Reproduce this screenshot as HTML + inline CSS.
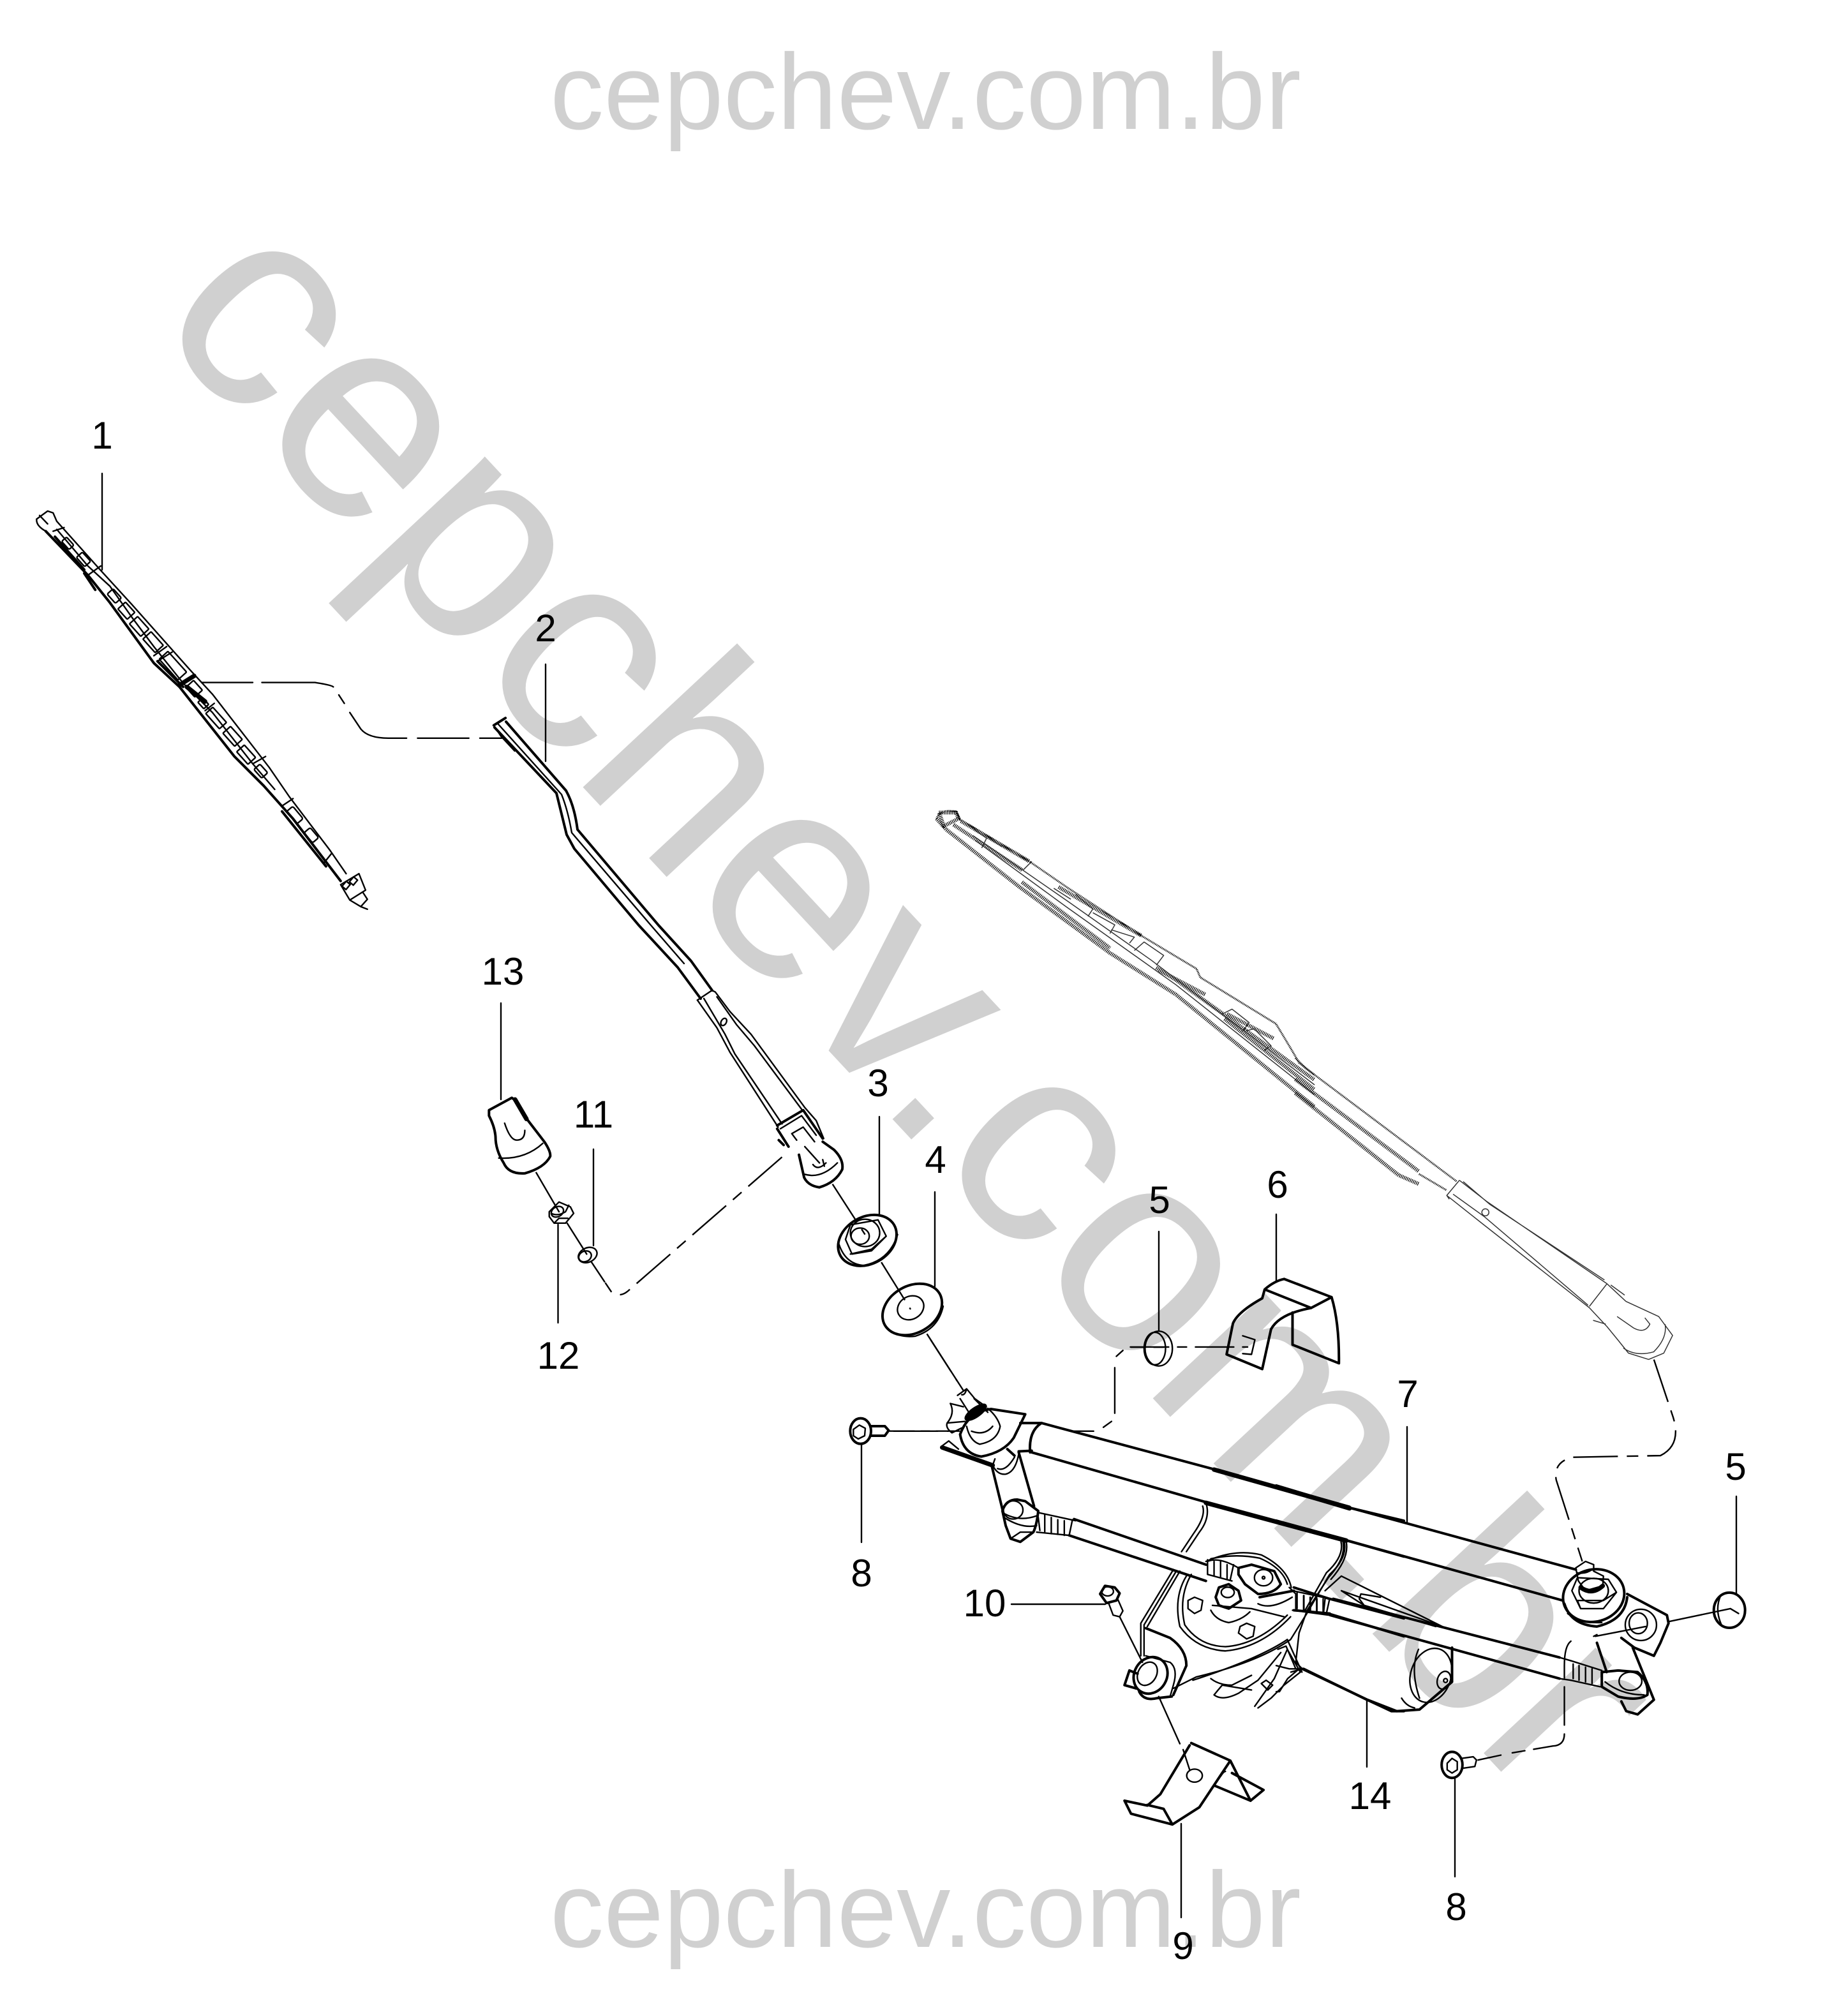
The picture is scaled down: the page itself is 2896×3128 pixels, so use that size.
<!DOCTYPE html>
<html><head><meta charset="utf-8"><style>
html,body{margin:0;padding:0;background:#fff}
svg{display:block}
.w{font-family:"Liberation Sans",sans-serif;fill:#d0d0d0}
.l{font-family:"Liberation Sans",sans-serif;font-size:60px;fill:#000;text-anchor:middle}
.a *{vector-effect:non-scaling-stroke;fill:none;stroke:#000;stroke-width:2.4;stroke-linejoin:round;stroke-linecap:round}
.a .t{stroke-width:4}
.a .th{stroke-width:1.5}
.a .x{stroke-width:7}
.a .d{stroke-dasharray:70 14 18 14;stroke-linecap:butt}
.a .f{fill:#000}
.g *{vector-effect:non-scaling-stroke;fill:none;stroke:#333;stroke-width:1.5;stroke-linejoin:round}
.g .h{stroke-width:6;stroke:#000;stroke-dasharray:1.2 1.4}
.g .m{stroke-width:3;stroke:#000;stroke-dasharray:1.2 1.2}
</style></head><body>
<svg xmlns="http://www.w3.org/2000/svg" width="2896" height="3128" viewBox="0 0 2896 3128">
<rect width="2896" height="3128" fill="#fff"/>
<text class="w" x="862" y="202" font-size="168.500">cepchev.com.br</text>
<text class="w" x="862" y="3051" font-size="168.500">cepchev.com.br</text>
<text class="w" font-size="456" transform="translate(235 506) rotate(47)">cepchev.com.br</text>

<!-- leaders -->
<g class="a">
<path d="M160 742V893M855 1041V1193M785 1572V1723M930 1801V1952M874.500 1919V2073M1378 1750V1904M1465 1868V2016M1816 1930V2085M2000 1903V2008M2205 2236V2388M2721 2345V2497M2142 2664V2769M2280 2788V2941M1851 2858V3005M1585 2514H1732M1350 2263V2417"/>
</g>

<!-- Z1 blade 1 and connector -->
<g class="a" transform="translate(0 600) scale(.574)">
<path d="M100 372L130 350L145 355L155 378L275 512L360 605L520 785L580 850L735 1050L790 1130L900 1275L945 1340"/>
<path class="t" d="M125 405L240 525L300 600L420 765L490 830L640 1020L720 1100L800 1190L930 1360"/>
<path d="M100 372Q98 390 125 405M108 362L130 385M155 400L240 500L300 555L360 640L420 720L500 820L580 900L690 1040L750 1110"/>
<path d="M240 525L275 500M145 405L175 395M420 745L455 720M430 760L470 735M560 895L585 875M690 1040L725 1020M770 1155L800 1135M885 1310L905 1285"/>
<path class="t" d="M150 420L230 510M230 520L260 565M770 1170L890 1320M430 760L500 830"/>
<g fill="none">
<rect x="-15" y="-9" width="30" height="18" rx="4" transform="translate(185 438) rotate(48)"/>
<rect x="-17" y="-11" width="34" height="22" rx="4" transform="translate(228 482) rotate(48)"/>
<rect x="-17" y="-11" width="34" height="22" rx="4" transform="translate(312 582) rotate(48)"/>
<rect x="-19" y="-14" width="38" height="28" rx="2" transform="translate(345 622) rotate(48)"/>
<rect x="-23" y="-15" width="46" height="30" rx="2" transform="translate(380 665) rotate(48)"/>
<rect x="-25" y="-15" width="50" height="30" rx="2" transform="translate(418 708) rotate(48)"/>
<rect x="-38" y="-16" width="76" height="32" rx="2" transform="translate(472 772) rotate(48)"/>
<rect x="-18" y="-14" width="36" height="28" rx="2" transform="translate(530 835) rotate(48)"/>
<rect x="-12" y="-9" width="24" height="18" rx="2" transform="translate(555 875) rotate(48)"/>
<rect x="-28" y="-13" width="56" height="26" rx="2" transform="translate(590 915) rotate(48)"/>
<rect x="-24" y="-14" width="48" height="28" rx="2" transform="translate(635 965) rotate(48)"/>
<rect x="-23" y="-14" width="46" height="28" rx="2" transform="translate(672 1015) rotate(48)"/>
<rect x="-16" y="-11" width="32" height="22" rx="4" transform="translate(712 1060) rotate(48)"/>
<rect x="-22" y="-11" width="44" height="22" rx="5" transform="translate(805 1180) rotate(50)"/>
<rect x="-18" y="-11" width="36" height="22" rx="5" transform="translate(850 1235) rotate(50)"/>
<rect x="-7" y="-9" width="14" height="18" transform="translate(945 1372) rotate(40)"/>
<rect x="-7" y="-9" width="14" height="18" transform="translate(965 1360) rotate(40)"/>
</g>
<path class="x" d="M490 825L530 800M510 830L560 870"/>
<path d="M930 1370L980 1340L998 1385L955 1412L930 1370M955 1412L985 1430L1003 1410L990 1390M985 1430L1003 1437"/>
<path d="M550 818H690M715 818H800M770 818H860Q905 825 910 830M925 852L940 875M955 900L985 945Q1005 970 1060 970H1110M1140 970H1280M1310 970H1370"/>
<path class="t" d="M1348 935L1380 915"/>
<path d="M1348 935L1368 965L1405 1005"/>
</g>

<!-- arm 2 -->
<g class="a">
<path class="t" d="M793 1131L887 1239Q900 1262 905 1300L1032 1450L1083 1506L1116 1552"/>
<path class="t" d="M775 1140L872 1243L888 1308L900 1330L1001 1450L1062 1516L1098 1565"/>
<path d="M780 1134L880 1245Q890 1270 896 1305L1020 1450L1072 1510"/>
</g>

<!-- Z2 -->
<g class="a" transform="translate(700 1450) scale(.5102)">
<path d="M770 230L815 200L825 205L870 265L935 335L1100 560L1135 600L1158 655"/>
<path d="M770 230L830 315L870 390L1018 620M790 225L855 335L885 395L1030 610M830 220L890 305L945 370L1090 565"/>
<ellipse cx="851" cy="297" rx="8" ry="12" transform="rotate(30 851 297)"/>
<path class="t" d="M1015 615L1095 568L1155 655M1015 625L1050 680M1020 660L1035 675"/>
<path d="M1025 625L1090 585L1135 645M1060 640L1095 620L1130 665M1060 640L1075 660M1100 680L1145 730"/>
<path class="t" d="M1155 665L1190 690Q1220 720 1215 750Q1195 790 1145 805Q1110 800 1098 775L1082 705"/>
<path d="M1100 765Q1150 780 1200 730M1125 735Q1140 755 1165 730M1155 720L1160 740"/>
<path class="d" d="M1030 712L555 1125Q530 1145 505 1125L487 1098"/>
<path d="M485 1095L445 1035M370 915L430 1010M275 760L345 880"/>
<path class="d" d="M1185 795L1285 950M1335 1035L1425 1180M1475 1255L1568 1400"/>
<!-- 13 -->
<path class="t" d="M130 568L200 530L207 535L250 600L300 665Q320 695 318 710Q300 745 240 762Q190 765 175 730Q150 690 150 650Q148 620 130 585Z"/>
<path class="x" d="M210 535L245 595"/>
<path d="M160 715Q240 720 295 670M178 608Q195 660 215 660Q240 660 240 630"/>
<!-- 12 -->
<path d="M315 880L345 850L380 865L390 885L365 915L330 915L315 895ZM322 885Q340 895 365 880L375 860M330 915L345 900L372 900"/>
<ellipse cx="340" cy="880" rx="20" ry="15" transform="rotate(-30 340 880)"/>
<!-- 11 -->
<ellipse cx="433" cy="1013" rx="30" ry="22" transform="rotate(-25 433 1013)"/>
<ellipse cx="425" cy="1017" rx="20" ry="16" transform="rotate(-25 425 1017)"/>
<!-- 3 -->
<ellipse class="t" cx="1292" cy="968" rx="95" ry="72" transform="rotate(-30 1292 968)"/>
<path d="M1205 980Q1225 1040 1280 1045Q1360 1030 1385 950M1225 965L1240 920L1325 905L1350 955L1305 1000L1245 1010ZM1240 1010L1305 995L1350 955"/>
<ellipse cx="1285" cy="945" rx="45" ry="42"/>
<ellipse cx="1270" cy="955" rx="28" ry="25"/>
<!-- 4 -->
<ellipse class="t" cx="1430" cy="1180" rx="97" ry="72" transform="rotate(-30 1430 1180)"/>
<path d="M1345 1225Q1375 1270 1440 1262Q1510 1240 1525 1170"/>
<ellipse cx="1425" cy="1175" rx="42" ry="35" transform="rotate(-30 1425 1175)"/>
</g>

<!-- Z3 -->
<g class="a" transform="translate(1400 2100) scale(.5102)">
<path d="M197 170L225 150L250 180L285 205M205 180L240 235M248 180L290 222M210 168Q220 170 225 150"/>
<ellipse class="f" cx="253" cy="222" rx="38" ry="14" transform="rotate(-35 253 222)"/>
<path d="M225 265Q235 310 265 320Q320 310 328 265Q320 235 290 210M240 280Q280 295 305 265"/>
<path class="t" d="M205 290Q230 220 300 212L405 228L370 300Q340 345 270 358Q215 350 205 290"/>
<path d="M175 195L215 205M175 195Q190 225 165 255Q160 270 180 285L210 270M165 255L220 250M150 325L170 310L200 335"/>
<path class="x" d="M150 330L305 385"/>
<path d="M305 385L312 365M305 385Q320 415 345 412Q375 405 385 350M320 395Q345 405 372 360"/>
<path class="t" d="M303 390L335 520M385 345L432 510M350 335L372 355"/>
<path class="t" d="M455 255Q415 280 420 345M390 255L455 255M385 342L425 340"/>
<path class="t" d="M455 255L985 397L1400 515L1568 555"/>
<path class="t" d="M425 345L960 498L1390 615L1568 665"/>
<path class="x" d="M985 398L1400 515M960 500L1390 616"/>
<!-- ball left -->
<path class="t" d="M335 525Q345 490 380 490L405 495L445 525Q440 570 430 590L390 620L360 610L345 570Z"/>
<path d="M340 545Q395 580 440 570M335 530Q385 560 440 540M360 610L390 590L430 590"/>
<ellipse cx="368" cy="522" rx="30" ry="28"/>
<path d="M445 530L560 555M440 590L540 600M445 545L450 585M465 535V590M485 545V595M505 552V597M525 555V600M550 552L540 600"/>
<path class="t" d="M555 550L960 690M540 600L960 740"/>
<!-- bracket -->
<path d="M960 500Q975 545 940 590L900 650M950 510Q960 540 925 590L885 650M860 705L760 870V970M870 708L770 875V970M880 710L780 880"/>
<path class="t" d="M775 885L850 915Q900 950 900 1000L860 1090"/>
<path d="M775 970L850 990Q875 1010 860 1060L850 1095"/>
<path d="M1385 620Q1395 670 1340 720L1270 840L1220 920Q1120 990 930 1035L860 1070M1375 620Q1385 665 1330 715L1262 835M1210 920Q1120 980 920 1045"/>
<path d="M900 725Q860 790 880 880Q930 950 1020 955Q1130 945 1220 850M915 720Q875 790 895 875Q940 940 1020 942Q1120 935 1210 845"/>
<path d="M960 680Q1050 640 1130 660Q1210 700 1222 760M975 672Q1050 655 1125 670Q1195 700 1210 750"/>
<path d="M905 800L925 790L950 800L945 830L925 840L905 825ZM1065 880L1085 870L1110 880L1105 910L1085 918L1060 900Z"/>
<path class="t" d="M1000 760L1030 750L1060 770L1068 800L1030 825L1000 815L990 790Z"/>
<ellipse cx="1027" cy="775" rx="20" ry="16"/>
<path d="M980 815L1100 825L1200 850M975 830Q990 860 1030 868Q1070 860 1095 835M1120 810Q1160 830 1225 790"/>
<path class="t" d="M1060 700L1100 690L1170 710L1190 750Q1170 780 1120 780L1080 750L1060 720Z"/>
<ellipse cx="1137" cy="730" rx="28" ry="25"/>
<circle cx="1137" cy="730" r="4"/>
<path d="M965 675V720M985 680V725M1005 680V730M1025 690V735M1045 690L1035 735M965 680Q1000 665 1060 700M965 720L1040 740"/>
<path class="t" d="M1230 760L1340 795M1230 830L1340 840M1125 790L1230 770"/>
<path d="M1240 775V825M1260 785V830M1280 790V835M1300 790V835M1320 795V840M1340 795L1330 840"/>
<path class="t" d="M1340 795L1568 855M1335 840L1568 910"/>
<!-- bolt 10 -->
<path class="t" d="M635 780L650 755L680 760L695 778L685 800L655 808Z"/>
<ellipse cx="658" cy="772" rx="18" ry="14"/>
<path d="M660 805L675 845L695 850L705 832L690 798"/>
<path d="M695 850L765 990M815 1095L880 1240M890 1258L910 1320"/>
<!-- pivot bottom-left -->
<ellipse class="t" cx="790" cy="1030" rx="50" ry="58" transform="rotate(30 790 1030)"/>
<ellipse cx="780" cy="1025" rx="28" ry="38" transform="rotate(30 780 1025)"/>
<path class="t" d="M710 1060L725 1015L750 1025M710 1060L745 1070M755 1080Q770 1110 810 1100L855 1095"/>
<!-- motor under -->
<path d="M975 1040Q1000 1060 1040 1060L1100 1030M985 1090L1010 1060L1100 1075M985 1090Q1010 1110 1060 1085L1120 1045L1190 960M1110 1125L1170 1040L1210 950L1250 1020L1200 1060L1160 1100L1120 1130M1210 920L1255 1020"/>
<path d="M1130 1055L1145 1045L1165 1060L1150 1075Z"/>
<path class="t" d="M1260 1010L1455 1105L1530 1140H1568"/>
<path class="d" d="M0 280H170"/>
<path d="M115 0L215 155"/>
<path d="M550 280H615M645 268L670 250M680 225V85M685 50L705 32M730 22H775M800 22L830 22"/>
<!-- bracket 9 -->
<path class="t" d="M915 1238L1035 1292L1097 1415L1137 1382L1040 1330M985 1368L1097 1415M1035 1292L940 1435L857 1488L730 1455L710 1415L780 1430L820 1395L910 1245M780 1428L830 1440L857 1488"/>
<ellipse cx="925" cy="1338" rx="24" ry="20"/>
<path d="M1005 1340Q1015 1325 1020 1325"/>
</g>

<!-- Z4 -->
<g class="a" transform="translate(2000 2100) scale(.5102)">
<path class="d" d="M1160 60L1215 225Q1250 320 1180 355L910 360Q850 375 860 430L940 680"/>
<path class="t" d="M0 447L225 515L920 705M0 555L215 615L880 800"/>
<path class="x" d="M0 450L225 517M0 558L215 616"/>
<path d="M205 620Q215 670 160 730L95 830L70 900M215 620Q225 670 168 735"/>
<path class="t" d="M175 795L870 975M165 845L870 1040"/>
<path d="M50 770L165 795M50 830L160 845M60 780V825M85 785V830M105 790V832M125 795V835M150 795L145 840M40 760L60 780"/>
<path d="M150 770L200 725L510 880M510 880L200 770L270 815L490 880M255 795L260 780L320 790M255 795L270 815"/>
<path class="t" d="M80 1010L280 1105L370 1140L440 1135L540 1050V945"/>
<path d="M70 900L60 990L80 1010L45 1020"/>
<ellipse cx="475" cy="1030" rx="62" ry="85" transform="rotate(18 475 1030)"/>
<path d="M437 950Q410 1010 440 1100"/>
<ellipse cx="515" cy="1045" rx="20" ry="28" transform="rotate(18 515 1045)"/>
<circle cx="520" cy="1046" r="6"/>
<path d="M385 1100Q400 1125 425 1130"/>
<path d="M0 1000L40 1010L70 1010L35 1040L10 1080H0M5 950L30 940L60 1010"/>
<!-- right pivot -->
<ellipse class="t" cx="975" cy="785" rx="95" ry="80" transform="rotate(-15 975 785)"/>
<path class="t" d="M885 810Q905 875 985 880Q1070 860 1078 790"/>
<path d="M895 840Q930 870 1000 868"/>
<path d="M908 770L925 730L1020 735L1045 775L1005 825L935 825ZM935 825L925 800L1005 800L1045 775"/>
<ellipse cx="975" cy="770" rx="45" ry="38"/>
<path d="M920 700L950 680L975 690L975 710L1005 725L1003 755L950 770L928 740L920 700M925 715Q950 720 970 705"/>
<path class="x" d="M935 760Q970 785 1003 755"/>
<path class="t" d="M1078 780L1200 845L1205 870L1180 930L1160 970L1100 945L1060 915"/>
<ellipse cx="1120" cy="875" rx="48" ry="48"/>
<ellipse cx="1112" cy="870" rx="28" ry="32"/>
<path d="M1205 865L1395 825M980 910L1135 880M1395 825L1420 840"/>
<path class="t" d="M985 930L1015 1020M1095 945L1160 1105L1110 1150L1075 1140L1060 1110"/>
<path class="t" d="M1000 1020L1050 1015L1110 1020Q1145 1050 1140 1090Q1110 1110 1050 1095L1000 1065Z"/>
<ellipse cx="1088" cy="1048" rx="35" ry="28"/>
<path d="M1010 1050Q1060 1090 1130 1090"/>
<path d="M905 985L1000 1015M905 1045L995 1065M912 995V1040M930 1000V1045M950 1005V1050M970 1010V1055"/>
<path d="M870 975L905 985M870 1040L905 1045"/>
<path d="M975 910L985 905M905 925Q885 940 885 1000V1210Q885 1245 850 1247L725 1268M690 1275L620 1290" stroke-dasharray="60 14"/>
<ellipse class="t" cx="1392" cy="830" rx="48" ry="54"/>
<path d="M1365 785Q1345 830 1370 880"/>
<!-- bolt 8 right -->
<ellipse class="t" cx="540" cy="1305" rx="32" ry="40"/>
<path d="M525 1300L540 1285L556 1295L556 1320L540 1330L525 1320Z"/>
<path d="M570 1285L605 1280L615 1290L610 1310L575 1315"/>
</g>

<!-- bolt 8 left -->
<g class="a" transform="translate(1250 2150) scale(.3333)">
<ellipse class="t" cx="296" cy="278" rx="49" ry="60"/>
<path d="M262 270L290 250L318 265L315 300L285 315L262 300Z"/>
<path class="t" d="M345 255H410L428 275L410 300H345"/>
<path d="M430 278H548M580 278H620M652 278H760"/>
</g>

<!-- ghost wiper, first half -->
<g class="g" transform="translate(1460 1260) scale(.3827)">
<path class="m" d="M20 60Q30 30 70 28L100 30L118 65L400 235L560 345L860 540L1085 675L1100 710L1410 900L1470 1000L1505 1060L1568 1110"/>
<path class="h" d="M20 60L60 105L360 340L730 610L1000 780L1568 1240"/>
<path class="h" d="M30 35L100 35L110 60L50 90Z"/>
<path class="h" d="M90 85L370 270M370 320L730 590"/>
<path class="h" d="M120 70L400 235M520 340L860 540M930 680L1120 780M1210 860L1400 960"/>
<path class="h" d="M920 670L1000 720L1568 1130M1200 880L1568 1170"/>
<path d="M170 130L560 400L900 640L1568 1150M180 150L550 420L1000 740L1568 1190"/>
<path d="M175 105L225 140L205 180M235 140L290 175M375 270L410 235M500 345L570 390M590 370L660 430L640 460M660 445L750 495L730 530M735 515L830 545L810 570M830 600L870 565L950 620L920 660M1190 860L1230 840L1300 895L1270 935M1285 930L1320 920L1390 990L1360 1010"/>
</g>
<!-- ghost wiper, second half -->
<g class="g" transform="translate(2030 1650) scale(.3954)">
<path class="m" d="M0 20L40 60L640 510"/>
<path class="h" d="M0 105L490 470M0 160L410 485L490 520"/>
<path class="m" d="M490 480L600 545"/>
<path d="M650 505L600 565L610 580M650 505L760 590L1235 915M665 510L770 600L1225 900M600 565L745 680L1165 1010M625 560L750 650L1160 1000M1235 915L1165 1005M1235 915L1310 985M1250 920L1305 960M1165 1010L1235 1085M1180 1060L1230 1075M1310 985L1440 1045L1495 1120L1460 1190L1400 1215L1320 1190L1280 1140L1235 1085M1465 1075Q1475 1130 1420 1185Q1350 1205 1300 1170M1275 1045L1340 1090Q1385 1115 1405 1075L1385 1050"/>
<circle cx="753" cy="632" r="14"/>
</g>

<!-- part 6 + washer -->
<g class="a" transform="translate(1450 1250) scale(.7653 .6059)">
<path class="t" d="M735 1245L832 1292Q848 1360 847 1463L752 1415V1332M735 1245Q715 1250 695 1272L690 1295Q640 1330 630 1360L617 1440L690 1478L708 1375Q725 1335 790 1320L832 1292M695 1272L790 1320"/>
<path d="M650 1392L675 1402L668 1440L650 1438"/>
<ellipse cx="478" cy="1425" rx="28" ry="45"/>
<ellipse cx="470" cy="1425" rx="22" ry="42"/>
<path stroke-dasharray="60 14 14 14" d="M420 1421H660"/>
</g>

<!-- labels -->
<text class="l" x="160" y="703">1</text>
<text class="l" x="855" y="1005">2</text>
<text class="l" x="1376" y="1718">3</text>
<text class="l" x="1466" y="1838">4</text>
<text class="l" x="1817" y="1901">5</text>
<text class="l" x="2002" y="1877">6</text>
<text class="l" x="2206" y="2205">7</text>
<text class="l" x="1350" y="2486">8</text>
<text class="l" x="2282" y="3009">8</text>
<text class="l" x="1854" y="3070">9</text>
<text class="l" x="1543" y="2533">10</text>
<text class="l" x="930" y="1767">11</text>
<text class="l" x="875" y="2145">12</text>
<text class="l" x="788" y="1543">13</text>
<text class="l" x="2147" y="2835">14</text>
<text class="l" x="2720" y="2319">5</text>
</svg>
</body></html>
